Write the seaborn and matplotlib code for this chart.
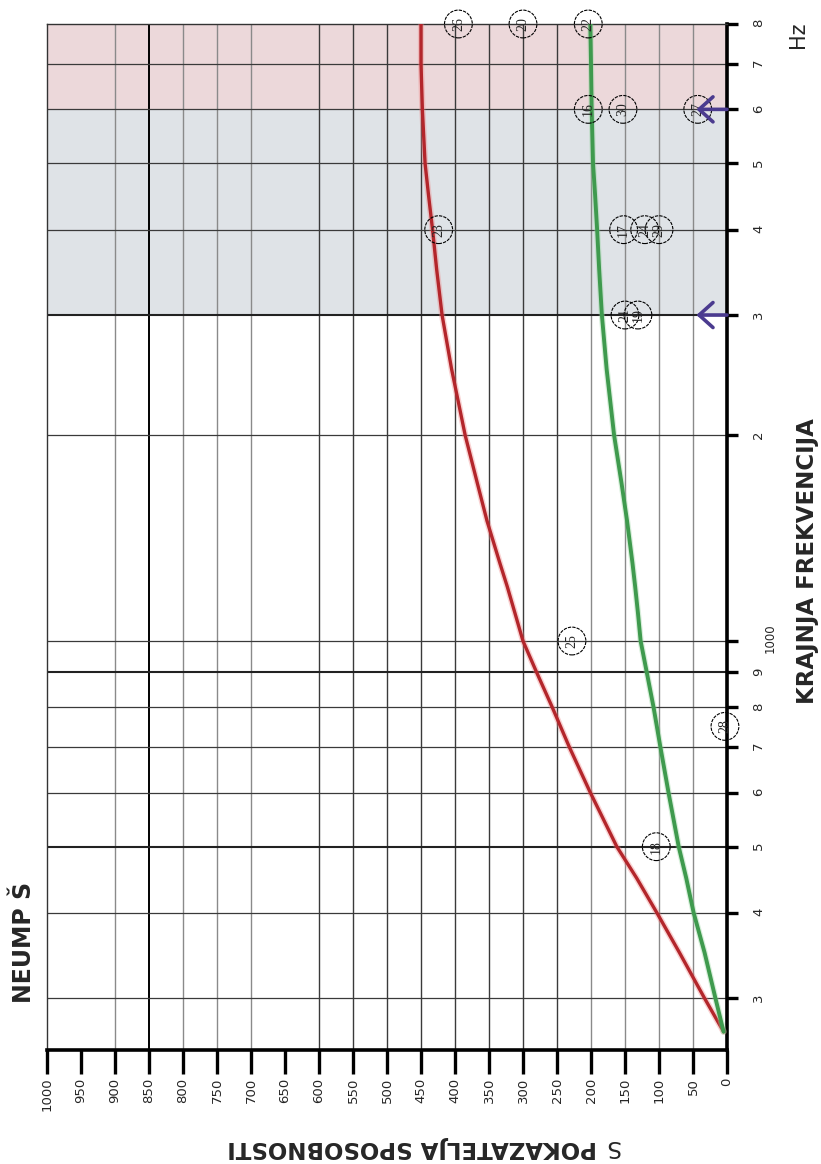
import matplotlib
matplotlib.use("Agg")
import matplotlib.pyplot as plt
import matplotlib.patheffects as pe
from matplotlib.ticker import FixedLocator, NullLocator
import seaborn as sns

# --------------------------
# DATA
# --------------------------
freq_hz = [268, 300, 350, 400, 450, 500, 600, 700, 800, 900, 1000, 1100, 1200,
           1300, 1500, 1700, 2000, 2500, 3000, 3500, 4000, 4500, 5000, 6000,
           7000, 8000]
s_red = [5, 33, 70, 103, 133, 162, 201, 232, 257, 280, 300, 312, 323,
         334, 353, 367, 385, 405, 419, 427, 433, 439, 444, 448, 450, 450]
s_green = [5, 17, 33, 49, 60, 71, 86, 98, 108, 118, 127, 131, 135,
           139, 147, 155, 166, 177, 184, 188, 191, 194, 197, 199, 200, 201]

point_ids = ["26", "20", "22", "16", "30", "27", "23", "17", "24", "29",
             "21", "19", "25", "28", "18"]
point_s = [395, 300, 204, 204, 153, 43, 424, 152, 121, 100, 150, 131, 228, 3, 104]
point_f = [8000, 8000, 8000, 6000, 6000, 6000, 4000, 4000, 4000, 4000,
           3000, 3000, 1000, 750, 500]

arrow_f = [6000, 3000]

s_ticks = list(range(0, 1001, 50))
f_ticks = [300, 400, 500, 600, 700, 800, 900, 1000, 2000, 3000, 4000,
           5000, 6000, 7000, 8000]
f_ticklabels = ["3", "4", "5", "6", "7", "8", "9", "", "2", "3", "4",
                "5", "6", "7", "8"]

band_blue = (3000, 6000)
band_pink = (6000, 8000)

# --------------------------
# STYLE
# --------------------------
W, H = 821, 1164
sns.set_style("white")
plt.rcParams["font.family"] = ["DejaVu Sans"]


def fx(px):
    return px / W


def fy(py):
    return 1 - py / H


fig = plt.figure(figsize=(W / 100, H / 100), dpi=100)
ax = fig.add_axes([fx(47), fy(1050), fx(727) - fx(47), fy(24) - fy(1050)])

ax.set_yscale("log")
ax.set_xlim(1000, 0)
ax.set_ylim(252, 8000)

# shaded bands
ax.axhspan(*band_blue, color="#dfe3e7", zorder=0, lw=0)
ax.axhspan(*band_pink, color="#ecd8da", zorder=0, lw=0)

# grid lines (S direction)
dark_s = [550, 500, 450, 400, 350, 300, 250, 600]
for s in s_ticks:
    if s in (0, 1000, 950, 650):
        continue
    if s == 850:
        ax.axvline(s, color="black", lw=1.4, zorder=1)
    elif s in dark_s:
        ax.axvline(s, color="#3a3a3a", lw=1.0, zorder=1)
    else:
        ax.axvline(s, color="#8a8a8a", lw=1.0, zorder=1)

# grid lines (frequency direction)
for f in f_ticks:
    if f == 8000:
        continue
    thick = f in (500, 900, 3000)
    ax.axhline(f, color="#222222" if thick else "#3a3a3a",
               lw=1.5 if thick else 0.9, zorder=1)

# curves
halo = lambda c: [pe.Stroke(linewidth=4.5, foreground=c, alpha=0.35), pe.Normal()]
sns.lineplot(x=s_red, y=freq_hz, sort=False, estimator=None, ax=ax,
             color="#b3262b", lw=2.4, zorder=3, path_effects=halo("#f08080"))
sns.lineplot(x=s_green, y=freq_hz, sort=False, estimator=None, ax=ax,
             color="#3f9a4e", lw=2.8, zorder=3, path_effects=halo("#90d29a"))

# circled sample numbers
ax.scatter(point_s, point_f, s=400, facecolors="none", edgecolors="black",
           linewidths=0.8, linestyles=(0, (3, 1)), zorder=4, clip_on=False)
for lab, s, f in zip(point_ids, point_s, point_f):
    ax.text(s, f, lab, rotation=90, ha="center", va="center", fontsize=10,
            family="Liberation Serif", zorder=5, clip_on=False)

# arrows
for f in arrow_f:
    ax.annotate("", xy=(45, f), xytext=(0, f),
                arrowprops=dict(arrowstyle="->,head_length=0.5,head_width=0.45",
                                lw=2.6, color="#4b3b8f",
                                mutation_scale=20, shrinkA=0, shrinkB=0),
                zorder=6, annotation_clip=False)

# spines
for side in ("left", "top"):
    ax.spines[side].set_color("#333333")
    ax.spines[side].set_linewidth(1.0)
for side in ("right", "bottom"):
    ax.spines[side].set_color("black")
    ax.spines[side].set_linewidth(2.6)

# ticks
ax.xaxis.set_major_locator(FixedLocator(s_ticks))
ax.set_xticklabels([str(s) for s in s_ticks])
ax.tick_params(axis="x", bottom=True, direction="out", length=17, width=2.4,
               labelrotation=90, labelsize=9.5, pad=3, color="black")
ax.yaxis.set_major_locator(FixedLocator(f_ticks))
ax.yaxis.set_minor_locator(NullLocator())
ax.set_yticklabels(f_ticklabels)
ax.yaxis.tick_right()
ax.tick_params(axis="y", right=True, left=False, direction="out", length=8,
               width=2.4, labelrotation=90, labelsize=9.5, pad=10, color="black")
ax.set_xlabel("")
ax.set_ylabel("")

# texts
fig.text(fx(770), fy(638), "1000", rotation=90, ha="center", va="center", fontsize=8.5)
fig.text(fx(798), fy(35), "Hz", rotation=90, ha="center", va="center", fontsize=15)
fig.text(fx(807), fy(561), "KRAJNJA FREKVENCIJA", rotation=90, ha="center",
         va="center", fontsize=16.5, fontweight="bold")
fig.text(fx(24), fy(942), "NEUMP Š", rotation=90, ha="center", va="center",
         fontsize=17, fontweight="bold")
fig.text(fx(597), fy(1147), "POKAZATELJA SPOSOBNOSTI", rotation=180, ha="right",
         va="center", fontsize=16.5, fontweight="bold")
fig.text(fx(612), fy(1147), "S", rotation=180, ha="center", va="center", fontsize=16.5)

fig.savefig("out.png", dpi=100)
